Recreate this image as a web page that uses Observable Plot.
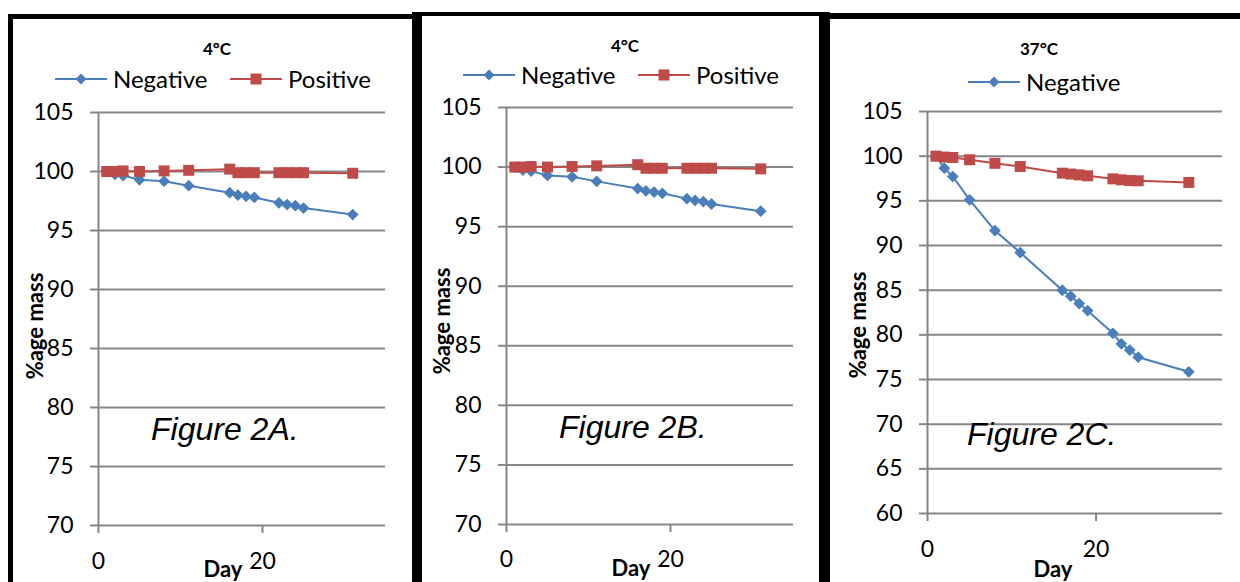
<!DOCTYPE html>
<html><head><meta charset="utf-8">
<script src="https://cdn.jsdelivr.net/npm/d3@7"></script>
<script src="https://cdn.jsdelivr.net/npm/@observablehq/plot@0.6"></script>
<style>
html,body{margin:0;padding:0;background:#fff;}
body{width:1240px;height:582px;overflow:hidden;position:relative;font-family:Lato,"DejaVu Sans",sans-serif;color:#000;}
.abs{position:absolute;white-space:nowrap;line-height:1;}
.c{transform:translate(-50%,-50%);}
.bar{position:absolute;background:#000;}
.title{font-weight:bold;font-size:17px;}
.leg{font-size:24px;transform:translateY(-50%);}
.ytitle{font-weight:bold;font-size:22px;transform:translate(-50%,-50%) rotate(-90deg);}
.xtitle{font-weight:bold;font-size:22px;}
.fig{font-family:"Liberation Sans",Arial,sans-serif;font-style:italic;font-size:32px;transform:translateY(-50%);}
</style></head><body>
<script>
// ---- data ----
const days = [1, 2, 3, 5, 8, 11, 16, 17, 18, 19, 22, 23, 24, 25, 31];
const negA = [100, 99.75, 99.66, 99.3, 99.18, 98.8, 98.2, 98.0, 97.9, 97.8, 97.35, 97.2, 97.1, 96.9, 96.35];
const posA = [100, 100, 100.05, 100, 100.05, 100.1, 100.2, 99.9, 99.9, 99.9, 99.9, 99.9, 99.9, 99.9, 99.85];
const negB = [100, 99.75, 99.66, 99.3, 99.18, 98.8, 98.2, 98.0, 97.9, 97.8, 97.35, 97.2, 97.1, 96.9, 96.3];
const posB = [100, 100, 100.05, 100, 100.05, 100.1, 100.2, 99.9, 99.9, 99.9, 99.9, 99.9, 99.9, 99.9, 99.85];
const negC = [100, 98.65, 97.72, 95.11, 91.67, 89.21, 84.99, 84.32, 83.5, 82.7, 80.17, 78.99, 78.3, 77.5, 75.86];
const posC = [100, 99.9, 99.85, 99.6, 99.2, 98.84, 98.1, 98.0, 97.9, 97.8, 97.46, 97.35, 97.27, 97.24, 97.06];
const xTicks = [0, 20];
const yTicksAB = [70, 75, 80, 85, 90, 95, 100, 105];
const yTicksC = [60, 65, 70, 75, 80, 85, 90, 95, 100, 105];
const titles = ["4°C", "4°C", "37°C"];
const figLabels = ["Figure 2A.", "Figure 2B.", "Figure 2C."];
const seriesNames = ["Negative", "Positive"];

const BLUE = "#4A7EBB", RED = "#BE4B48", GRID = "#868686";

function add(html){ document.body.insertAdjacentHTML("beforeend", html); }

// panel frames (black borders)
add(`<div class="bar" style="left:8px;top:14px;width:407px;height:5px"></div>`);
add(`<div class="bar" style="left:8px;top:14px;width:5px;height:570px"></div>`);
add(`<div class="bar" style="left:412px;top:12px;width:10px;height:572px"></div>`);
add(`<div class="bar" style="left:416px;top:12px;width:409px;height:4px"></div>`);
add(`<div class="bar" style="left:819px;top:12px;width:11px;height:572px"></div>`);
add(`<div class="bar" style="left:825px;top:13px;width:420px;height:6px"></div>`);

const panels = [
  {neg: negA, pos: posA, yTicks: yTicksAB, left: 14, top: 88, w: 398, h: 494, ml: 84, mr: 27, mt: 24, mb: 57, xpad: 19,
   title: [217, 48], legY: 79, legs: [55, 230], yt: [35, 326], fig: [151, 429], day: [223, 569]},
  {neg: negB, pos: posB, yTicks: yTicksAB, left: 422, top: 88, w: 398, h: 494, ml: 84, mr: 27, mt: 19, mb: 58, xpad: 18,
   title: [625, 45], legY: 75, legs: [463, 638], yt: [442, 321], fig: [559, 427], day: [631, 568]},
  {neg: negC, pos: posC, yTicks: yTicksC, left: 830, top: 88, w: 410, h: 494, ml: 97, mr: 18, mt: 23, mb: 69, xpad: 19,
   title: [1039, 48], legY: 82, legs: [968], yt: [858, 325], fig: [967, 434], day: [1053, 569]}
];

panels.forEach((p, k) => {
  const data = days.map((d, i) => ({day: d, neg: p.neg[i], pos: p.pos[i]}));
  const yDomain = [d3.min(p.yTicks), d3.max(p.yTicks)];
  const chart = Plot.plot({
    width: p.w, height: p.h,
    marginLeft: p.ml, marginRight: p.mr, marginTop: p.mt, marginBottom: p.mb,
    x: {domain: [0, 35]},
    y: {domain: yDomain},
    style: {background: "transparent", fontFamily: "Lato", fontSize: "23px", color: "black", overflow: "visible"},
    marks: [
      Plot.gridY(p.yTicks, {stroke: GRID, strokeOpacity: 1, strokeWidth: 2}),
      Plot.axisY(p.yTicks, {tickSize: 8, tickPadding: 17, stroke: GRID, strokeOpacity: 1, strokeWidth: 2, fontSize: 23, label: null}),
      Plot.axisX(xTicks, {tickSize: 8, tickPadding: p.xpad, stroke: GRID, strokeOpacity: 1, strokeWidth: 2, fontSize: 23, label: null}),
      Plot.ruleX([0], {stroke: GRID, strokeWidth: 2}),
      Plot.line(data, {x: "day", y: "neg", stroke: BLUE, strokeWidth: 2}),
      Plot.dot(data, {x: "day", y: "neg", symbol: "diamond2", r: 5.3, fill: BLUE}),
      Plot.line(data, {x: "day", y: "pos", stroke: RED, strokeWidth: 2}),
      Plot.dot(data, {x: "day", y: "pos", symbol: "square", r: 6.2, fill: RED})
    ]
  });
  chart.style.position = "absolute";
  chart.style.left = p.left + "px";
  chart.style.top = p.top + "px";
  document.body.appendChild(chart);

  add(`<div class="abs c title" style="left:${p.title[0]}px;top:${p.title[1]}px">${titles[k]}</div>`);
  // legend
  const legColors = [BLUE, RED];
  p.legs.forEach((lx, j) => {
    const marker = j === 0
      ? `<path d="M26,1.5 L31.5,7 L26,12.5 L20.5,7Z" fill="${BLUE}"/>`
      : `<rect x="20.5" y="1.5" width="11" height="11" fill="${RED}"/>`;
    add(`<svg class="abs" width="52" height="14" style="left:${lx}px;top:${p.legY - 7}px"><line x1="0" x2="52" y1="7" y2="7" stroke="${legColors[j]}" stroke-width="2"/>${marker}</svg>`);
    add(`<div class="abs leg" style="left:${lx + 58}px;top:${p.legY}px">${seriesNames[j]}</div>`);
  });
  add(`<div class="abs ytitle" style="left:${p.yt[0]}px;top:${p.yt[1]}px">%age mass</div>`);
  add(`<div class="abs fig" style="left:${p.fig[0]}px;top:${p.fig[1]}px">${figLabels[k]}</div>`);
  add(`<div class="abs c xtitle" style="left:${p.day[0]}px;top:${p.day[1]}px">Day</div>`);
});
</script>
</body></html>
